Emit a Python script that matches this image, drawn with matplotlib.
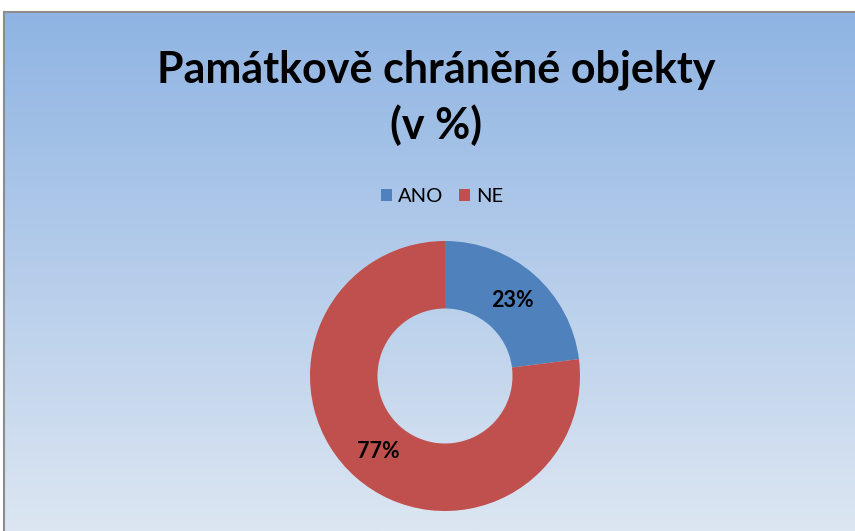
import numpy as np
import matplotlib

matplotlib.use("Agg")
import matplotlib.pyplot as plt  # noqa: E402
from matplotlib.lines import Line2D  # noqa: E402

plt.rcParams["font.family"] = ["Lato", "DejaVu Sans"]

labels = ["ANO", "NE"]
values = [23, 77]
colors = ["#4F81BD", "#C0504D"]
title = "Památkově chráněné objekty\n(v %)"

W, H = 855, 531
fig = plt.figure(figsize=(W / 100, H / 100), dpi=100)
fig.patch.set_facecolor("white")

# gradient background of the chart area
bg = fig.add_axes([4 / W, 0, 1 - 4 / W, (H - 12) / H])
top = np.array([143, 180, 227]) / 255
bot = np.array([220, 230, 242]) / 255
t = np.linspace(0, 1, 256)[:, None]
grad = (top * (1 - t) + bot * t)[:, None, :]
bg.imshow(grad, aspect="auto", extent=[0, 1, 0, 1])
bg.set_xlim(0, 1)
bg.set_ylim(0, 1)
bg.axis("off")

# grey frame, top and left edges
fig.add_artist(Line2D([4 / W, 1], [(H - 12) / H] * 2, color="#8c8c8c", lw=1.5))
fig.add_artist(Line2D([4 / W] * 2, [0, (H - 12) / H], color="#8c8c8c", lw=1.5))

fig.text(436 / W, 1 - 98 / H, title, ha="center", va="center",
         fontsize=31, fontweight="bold", color="black", linespacing=1.42)

# donut
cx, cy, r = 445, 376, 135
ax = fig.add_axes([(cx - r) / W, (H - cy - r) / H, 2 * r / W, 2 * r / H])
wedges, _, autotexts = ax.pie(
    values, colors=colors, startangle=90, counterclock=False,
    radius=1, autopct="%d%%", pctdistance=0.75,
    wedgeprops=dict(width=0.5, edgecolor="none"),
    textprops=dict(fontsize=15.5, fontweight="bold", color="black"),
)
ax.set_xlim(-1, 1)
ax.set_ylim(-1, 1)
ax.set_aspect("equal")
ax.axis("off")

fig.legend(wedges, labels, loc="center", bbox_to_anchor=(442 / W, 1 - 197 / H),
           ncol=2, frameon=False, fontsize=14.5, handlelength=0.55, handleheight=0.55,
           handletextpad=0.3, columnspacing=0.8)

fig.savefig("out.png", dpi=100)
